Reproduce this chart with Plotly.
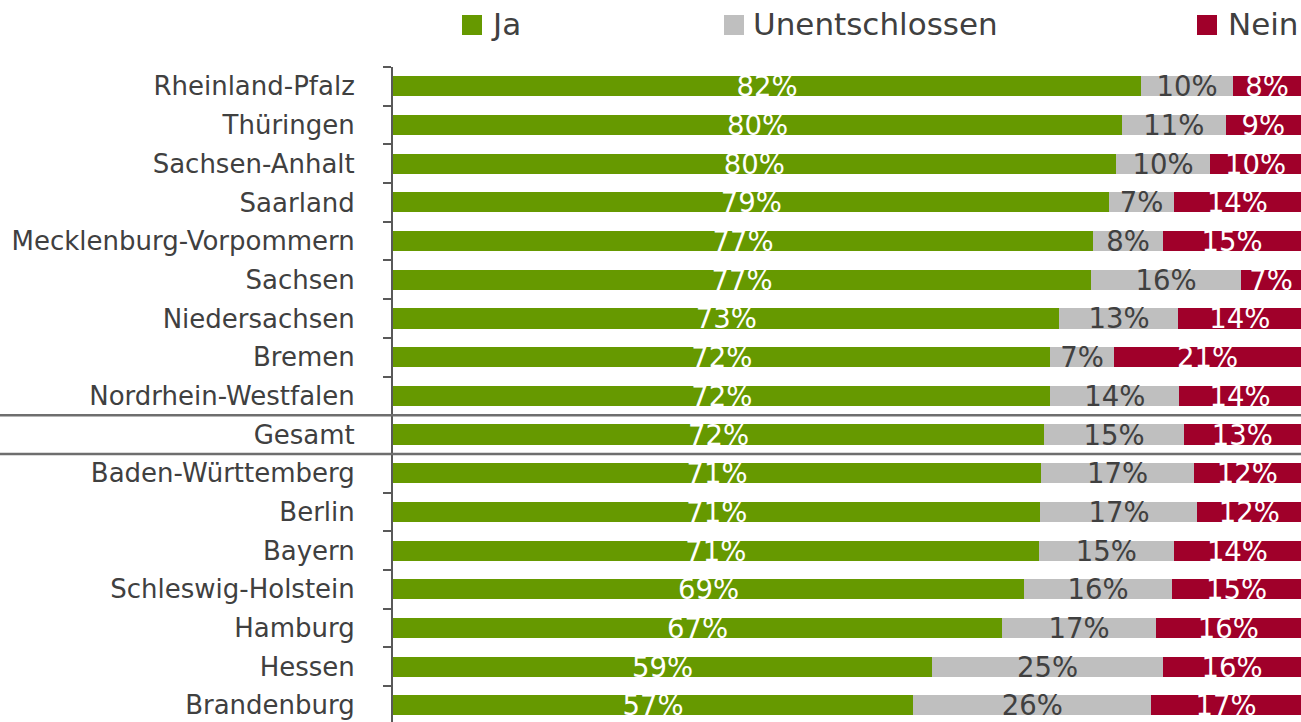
import plotly.graph_objects as go

# ---------------- data ----------------
states = [
    "Rheinland-Pfalz", "Thüringen", "Sachsen-Anhalt", "Saarland",
    "Mecklenburg-Vorpommern", "Sachsen", "Niedersachsen", "Bremen",
    "Nordrhein-Westfalen", "Gesamt", "Baden-Württemberg", "Berlin",
    "Bayern", "Schleswig-Holstein", "Hamburg", "Hessen", "Brandenburg",
]
ja_share = [82.4, 80.3, 79.6, 78.9, 77.1, 76.9, 73.4, 72.4, 72.4, 71.7,
            71.4, 71.3, 71.1, 69.5, 67.1, 59.4, 57.3]
unent_share = [10.1, 11.4, 10.4, 7.1, 7.7, 16.5, 13.1, 7.0, 14.2, 15.4,
               16.8, 17.3, 14.9, 16.3, 16.9, 25.4, 26.2]
nein_share = [7.5, 8.3, 10.0, 14.0, 15.2, 6.6, 13.5, 20.6, 13.4, 12.9,
              11.8, 11.4, 14.0, 14.2, 16.0, 15.2, 16.5]
ja_labels = [82, 80, 80, 79, 77, 77, 73, 72, 72, 72, 71, 71, 71, 69, 67, 59, 57]
unent_labels = [10, 11, 10, 7, 8, 16, 13, 7, 14, 15, 17, 17, 15, 16, 17, 25, 26]
nein_labels = [8, 9, 10, 14, 15, 7, 14, 21, 14, 13, 12, 12, 14, 15, 16, 16, 17]

series_names = ["Ja", "Unentschlossen", "Nein"]
colors = ["#669900", "#BFBFBF", "#A0002A"]
text_colors = ["#FFFFFF", "#404040", "#FFFFFF"]

# ---------------- layout geometry ----------------
W, H = 1301, 722
ML, MR, MT, MB = 393, 0, 67, 0
PW, PH = W - ML - MR, H - MT - MB
FONT = "DejaVu Sans"


def px_x(px):
    return (px - ML) / PW


def px_y(py):
    return (H - MB - py) / PH


fig = go.Figure()
for name, vals, labs, col, tcol in zip(
        series_names, [ja_share, unent_share, nein_share],
        [ja_labels, unent_labels, nein_labels], colors, text_colors):
    fig.add_trace(go.Bar(
        y=states, x=vals, orientation="h", name=name,
        marker=dict(color=col, line=dict(width=0)),
        text=[f"{v}%" for v in labs],
        textposition="inside", insidetextanchor="middle",
        constraintext="none",
        insidetextfont=dict(family=FONT, size=27.5, color=tcol),
        hoverinfo="skip", showlegend=False,
    ))

# legend built from shapes + annotations
legend_pos = [(462, 489), (724, 751), (1197, 1226)]
shapes = []
annotations = []
for (sq, tx), name, col in zip(legend_pos, series_names, colors):
    shapes.append(dict(type="rect", xref="paper", yref="paper",
                       x0=px_x(sq), x1=px_x(sq + 20), y0=px_y(35), y1=px_y(15),
                       fillcolor=col, line=dict(width=0)))
    annotations.append(dict(xref="paper", yref="paper", x=px_x(tx), y=px_y(24),
                            xanchor="left", yanchor="middle", showarrow=False,
                            text=name, font=dict(family=FONT, size=31, color="#404040")))

# separator lines around "Gesamt"
gi = states.index("Gesamt")
for yv in (gi - 0.5, gi + 0.5):
    shapes.append(dict(type="line", xref="paper", yref="y",
                       x0=px_x(0), x1=1, y0=yv, y1=yv,
                       line=dict(color="#6E6E6E", width=2.5)))

fig.update_layout(
    width=W, height=H,
    margin=dict(l=ML, r=MR, t=MT, b=MB, pad=0),
    barmode="stack", bargap=0.48,
    plot_bgcolor="white", paper_bgcolor="white",
    font=dict(family=FONT, color="#404040"),
    shapes=shapes, annotations=annotations,
    xaxis=dict(range=[0, 100], visible=False, fixedrange=True),
    yaxis=dict(type="category", categoryorder="array", categoryarray=states,
               range=[16.43, -0.5], showgrid=False, zeroline=False,
               showline=True, linecolor="#595959", linewidth=2,
               ticks="outside", tickson="boundaries", ticklen=8, tickwidth=2,
               tickcolor="#595959", ticklabelstandoff=31, fixedrange=True,
               tickfont=dict(family=FONT, size=26, color="#404040")),
)

fig.write_html("out.html", config={"displayModeBar": False},
               post_script="document.body.style.margin='0';document.body.style.overflow='hidden';")
